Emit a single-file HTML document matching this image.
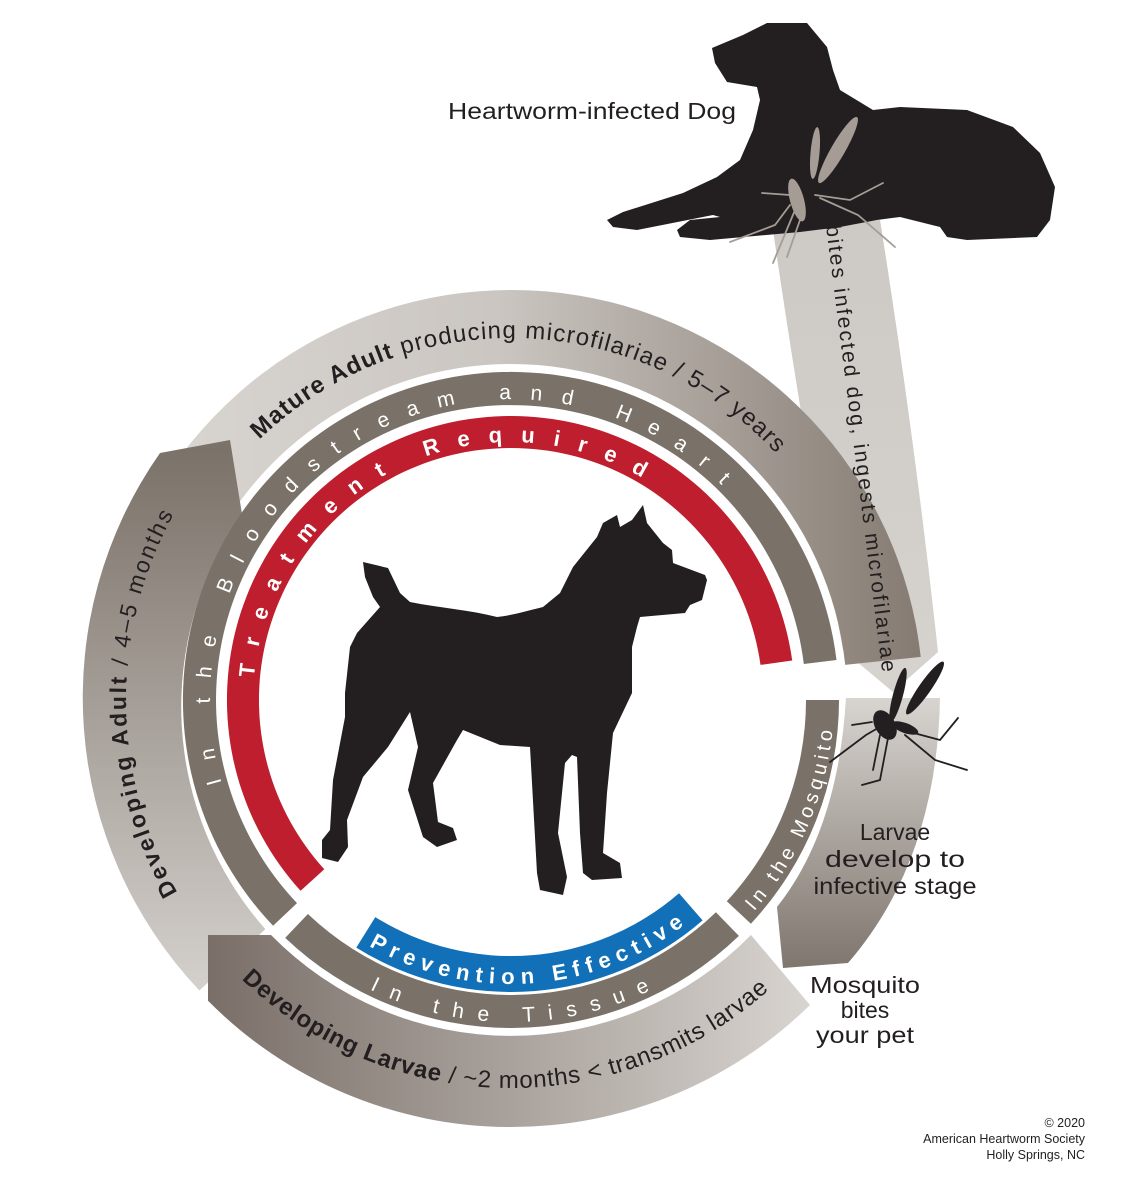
<!DOCTYPE html>
<html><head><meta charset="utf-8"><style>
html,body{margin:0;padding:0;background:#fff}
svg{display:block}
text{font-family:"Liberation Sans",sans-serif}
</style></head><body>
<svg width="1144" height="1177" viewBox="0 0 1144 1177" xmlns="http://www.w3.org/2000/svg">
<defs>
<linearGradient id="gM" x1="150" y1="0" x2="920" y2="0" gradientUnits="userSpaceOnUse">
<stop offset="0" stop-color="#d9d5d1"/><stop offset="0.45" stop-color="#cbc6c1"/><stop offset="1" stop-color="#857b72"/></linearGradient>
<linearGradient id="gA" x1="0" y1="450" x2="0" y2="990" gradientUnits="userSpaceOnUse">
<stop offset="0" stop-color="#7b7269"/><stop offset="1" stop-color="#d4d0cc"/></linearGradient>
<linearGradient id="gL" x1="208" y1="0" x2="810" y2="0" gradientUnits="userSpaceOnUse">
<stop offset="0" stop-color="#7a6f68"/><stop offset="1" stop-color="#d8d4d0"/></linearGradient>
<linearGradient id="gR" x1="0" y1="698" x2="0" y2="968" gradientUnits="userSpaceOnUse">
<stop offset="0" stop-color="#d8d4d0"/><stop offset="1" stop-color="#7f766e"/></linearGradient>
<linearGradient id="gS" x1="0" y1="220" x2="0" y2="692" gradientUnits="userSpaceOnUse">
<stop offset="0" stop-color="#cdc9c5"/><stop offset="1" stop-color="#d6d2ce"/></linearGradient>
<path id="pMat" d="M 259.5 439.6 A 362 362 0 0 1 780 457.8"/>
<path id="pBlood" d="M 221.7 783 A 301 301 0 0 1 727.5 490.9"/>
<path id="pTreat" d="M 254 677.5 A 258 258 0 0 1 647.7 481.2"/>
<path id="pDevA" d="M 177.6 892.5 A 385 385 0 0 1 181 501.7"/>
<path id="pLarv" d="M 241.5 979.1 A 388 388 0 0 0 775.6 983.8"/>
<path id="pTiss" d="M 369.8 989.4 A 322 322 0 0 0 662.2 984.3"/>
<path id="pPrev" d="M 369 945.9 A 284 284 0 0 0 693.6 917.5"/>
<path id="pMosq" d="M 754 911.3 A 323 323 0 0 0 833.2 722.5"/>
</defs>

<!-- bites stripe -->
<path d="M 773 230 Q 805 450 843 650 L 893 692 L 938 652 Q 915 440 880 220 Z" fill="url(#gS)"/>

<!-- outer ring segments -->
<path d="M 138.5 526.3 A 412 412 0 0 1 920.7 656.9 L 845.2 664.9 A 336 336 0 0 0 206.5 558 Z" fill="url(#gM)"/>
<path d="M 160 453 L 230 440 L 242 514 A 336 336 0 0 0 265.3 929.1 L 199.4 990.5 A 426 426 0 0 1 160 453 Z" fill="url(#gA)"/>
<path d="M 208 935 L 271 935 A 336 336 0 0 0 751 935 L 810 1005 A 427 427 0 0 1 208 1000.8 Z" fill="url(#gL)"/>
<path d="M 846 698 L 940 698 Q 937 860 848 963 L 783 968 L 777 907 Q 838 830 846 698 Z" fill="url(#gR)"/>

<!-- inner gray rings -->
<path d="M 273.1 925.8 A 328 328 0 1 1 836.5 660 L 803.8 664 A 295 295 0 1 0 297 903.1 Z" fill="#7a7268"/>
<path d="M 738.9 935.9 A 328 328 0 0 1 285.2 937.9 L 307.9 914 A 295 295 0 0 0 715.9 912.2 Z" fill="#7a7268"/>
<path d="M 839 700 A 328 328 0 0 1 750.9 923.7 L 726.8 901.2 A 295 295 0 0 0 806 700 Z" fill="#7a7268"/>

<!-- red ring -->
<path d="M 300.6 890.8 A 284 284 0 1 1 792.2 660.5 L 760.5 664.9 A 252 252 0 1 0 324.3 869.3 Z" fill="#be1e2d"/>
<!-- blue band -->
<path d="M 702.6 920.4 A 292 292 0 0 1 356.3 947.6 L 375.3 917.1 A 256 256 0 0 0 679 893.2 Z" fill="#1170b8"/>

<!-- curved texts -->
<text font-size="24" fill="#231f20"><textPath href="#pMat" textLength="575" lengthAdjust="spacing"><tspan font-weight="bold">Mature Adult</tspan> producing microfilariae / 5–7 years</textPath></text>
<text font-size="21" fill="#fff"><textPath href="#pBlood" textLength="790" lengthAdjust="spacing">In the Bloodstream and Heart</textPath></text>
<text font-size="22" font-weight="bold" fill="#fff"><textPath href="#pTreat" textLength="520" lengthAdjust="spacing">Treatment Required</textPath></text>
<text font-size="23" fill="#231f20"><textPath href="#pDevA" textLength="395" lengthAdjust="spacing"><tspan font-weight="bold">Developing Adult</tspan> / 4–5 months</textPath></text>
<text font-size="24" fill="#231f20"><textPath href="#pLarv" textLength="580" lengthAdjust="spacing"><tspan font-weight="bold">Developing Larvae</tspan> / ~2 months &lt; transmits larvae</textPath></text>
<text font-size="21" fill="#fff"><textPath href="#pTiss" textLength="290" lengthAdjust="spacing">In the Tissue</textPath></text>
<text font-size="22" font-weight="bold" fill="#fff"><textPath href="#pPrev" textLength="335" lengthAdjust="spacing">Prevention Effective</textPath></text>
<text font-size="20" fill="#fff"><textPath href="#pMosq" textLength="200" lengthAdjust="spacing">In the Mosquito</textPath></text>

<!-- stripe text -->
<text font-size="21" fill="#231f20" transform="translate(826 226) rotate(82.8)" textLength="450" lengthAdjust="spacing">bites infected dog, ingests microfilariae</text>

<!-- center dog -->
<path fill="#231f20" d="M 363 562 L 388 568 L 400 593 L 410 602 C 440 608 470 610 497 617 C 515 615 530 610 543 607 L 560 593 L 573 567 L 597 537 L 603 523 L 617 515 L 620 527 L 632 520 L 643 505 L 647 523 L 663 543 L 672 550 L 673 563 L 705 575 L 707 580 L 702 600 L 690 605 L 685 613 L 640 617 L 637 627 L 632 647 L 632 693 L 613 733 L 607 793 L 603 853 L 620 863 L 622 878 L 592 880 L 583 873 L 580 833 L 577 757 L 572 755 L 565 763 L 558 833 L 567 877 L 563 895 L 540 890 L 537 873 L 530 747 L 500 745 L 463 730 L 457 740 L 433 783 L 438 822 L 453 828 L 457 840 L 437 847 L 423 837 L 408 790 L 418 747 L 410 712 L 388 747 L 363 777 L 347 820 L 348 847 L 338 862 L 322 858 L 322 840 L 330 830 L 333 780 L 345 717 L 345 693 L 350 647 L 357 633 L 380 607 L 373 597 L 365 577 Z"/>

<!-- top dog -->
<path fill="#231f20" d="M 712 48 L 743 35 L 767 23 L 807 23 L 827 47 L 833 70 L 840 90 L 873 110 L 900 107 L 967 110 L 1013 127 L 1040 153 L 1055 187 L 1050 220 L 1037 237 L 967 240 L 947 237 L 940 227 L 900 217 L 877 220 L 840 227 L 800 232 L 710 240 L 680 237 L 677 230 L 690 220 L 720 217 L 713 215 L 637 230 L 613 227 L 607 220 L 623 212 L 683 193 L 717 177 L 740 160 L 753 130 L 760 100 L 757 87 L 727 82 L 715 63 Z"/>

<!-- gray mosquito -->
<g fill="#a59d95" stroke="#a59d95" stroke-linecap="round">
<ellipse cx="838" cy="150" rx="7" ry="38" transform="rotate(30 838 150)" stroke="none"/>
<ellipse cx="815" cy="153" rx="4.5" ry="26" transform="rotate(5 815 153)" stroke="none"/>
<ellipse cx="797" cy="200" rx="7" ry="22" transform="rotate(-15 797 200)" stroke="none"/>
<g stroke-width="1.8" fill="none">
<path d="M 790 195 L 762 193"/><path d="M 790 205 L 775 225 L 730 242"/><path d="M 795 210 L 773 263"/>
<path d="M 800 220 L 787 257"/><path d="M 815 195 L 850 200 L 883 183"/><path d="M 820 198 L 858 215 L 895 247"/>
</g></g>

<!-- black mosquito -->
<g fill="#231f20" stroke="#231f20" stroke-linecap="round">
<ellipse cx="925" cy="688" rx="6" ry="32" transform="rotate(35 925 688)" stroke="none"/>
<ellipse cx="898" cy="695" rx="5" ry="28" transform="rotate(15 898 695)" stroke="none"/>
<ellipse cx="885" cy="725" rx="10" ry="16" transform="rotate(-30 885 725)" stroke="none"/>
<ellipse cx="905" cy="728" rx="14" ry="5" transform="rotate(20 905 728)" stroke="none"/>
<g stroke-width="1.8" fill="none">
<path d="M 878 728 L 866 735 L 830 762"/><path d="M 872 722 L 852 725"/><path d="M 880 735 L 873 770"/>
<path d="M 888 738 L 880 780 L 862 785"/><path d="M 910 732 L 940 740 L 958 718"/><path d="M 905 735 L 935 760 L 967 770"/>
</g></g>

<!-- labels -->
<text x="448" y="119" font-size="23" fill="#231f20" textLength="288" lengthAdjust="spacingAndGlyphs">Heartworm-infected Dog</text>
<g font-size="23" fill="#231f20" text-anchor="middle">
<text x="895" y="840">Larvae</text>
<text x="895" y="867" textLength="140" lengthAdjust="spacingAndGlyphs">develop to</text>
<text x="895" y="894" textLength="163" lengthAdjust="spacingAndGlyphs">infective stage</text>
<text x="865" y="993" textLength="110" lengthAdjust="spacingAndGlyphs">Mosquito</text>
<text x="865" y="1018">bites</text>
<text x="865" y="1043" textLength="98" lengthAdjust="spacingAndGlyphs">your pet</text>
</g>
<g font-size="12.5" fill="#231f20" text-anchor="end">
<text x="1085" y="1127">© 2020</text>
<text x="1085" y="1143">American Heartworm Society</text>
<text x="1085" y="1159">Holly Springs, NC</text>
</g>
</svg>
</body></html>
